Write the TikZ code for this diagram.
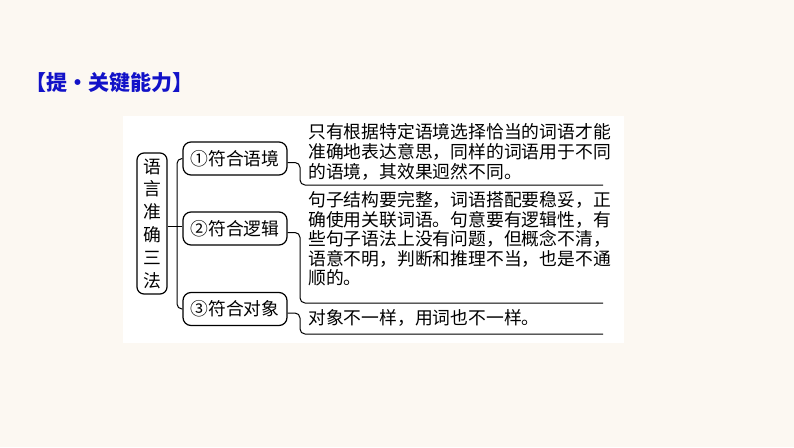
\documentclass[tikz,border=0pt]{standalone}
\usepackage{fontspec}
\newfontfamily\cjk{Noto Sans CJK SC}
\definecolor{bgcol}{RGB}{252,248,242}
\definecolor{titleblue}{RGB}{18,18,200}
\begin{document}
\begin{tikzpicture}[x=1pt,y=-1pt,
  every node/.style={inner sep=0pt, font=\cjk\fontsize{17.8}{20}\selectfont},
  catbox/.style={draw, line width=1.2pt, rounded corners=8pt, minimum width=104pt, minimum height=33pt},
  rootbox/.style={draw, line width=1.2pt, rounded corners=7pt, minimum width=30pt, minimum height=141pt, align=center, font=\cjk\fontsize{17.8}{22.8}\selectfont},
  conn/.style={line width=1pt, rounded corners=5pt},
  txt/.style={anchor=west},
  titlestyle/.style={anchor=west, text=titleblue, font=\cjk\bfseries\fontsize{21}{24}\selectfont}]
\useasboundingbox (0,0) rectangle (794,447);
\fill[bgcol] (0,0) rectangle (794,447);
\fill[white] (123,116) rectangle (624,343);
\node[titlestyle] (title) at (25,83) {【提・关键能力】};
\node[rootbox] (root) at (152,223.5) {语\\言\\准\\确\\三\\法};
\node[catbox] (b1) at (235,158.5) {①符合语境};
\node[catbox] (b2) at (235,228.5) {②符合逻辑};
\node[catbox] (b3) at (235,309) {③符合对象};
\coordinate (trunk) at (177,226);
\draw[conn] (root.east |- trunk) -- (b2.west |- trunk);
\draw[conn] (b1.west) -| (trunk) |- (b3.west);
\coordinate (e1) at (603,185);
\coordinate (e2) at (603,303);
\coordinate (e3) at (603,334);
\draw[conn] ([yshift=-4pt]b1.east) -| (300,185) -- (e1);
\draw[conn] ([yshift=-4pt]b2.east) -| (300,303) -- (e2);
\draw[conn] ([yshift=-4pt]b3.east) -| (300,334) -- (e3);
\node[txt] (t11) at (308,132) {只有根据特定语境选择恰当的词语才能};
\node[txt] (t12) at (308,152) {准确地表达意思，同样的词语用于不同};
\node[txt] (t13) at (308,172) {的语境，其效果迥然不同。};
\node[txt] (t21) at (308,200) {句子结构要完整，词语搭配要稳妥，正};
\node[txt] (t22) at (308,219.5) {确使用关联词语。句意要有逻辑性，有};
\node[txt] (t23) at (308,239) {些句子语法上没有问题，但概念不清，};
\node[txt] (t24) at (308,259) {语意不明，判断和推理不当，也是不通};
\node[txt] (t25) at (308,278) {顺的。};
\node[txt] (t31) at (308,318) {对象不一样，用词也不一样。};
\end{tikzpicture}
\end{document}
